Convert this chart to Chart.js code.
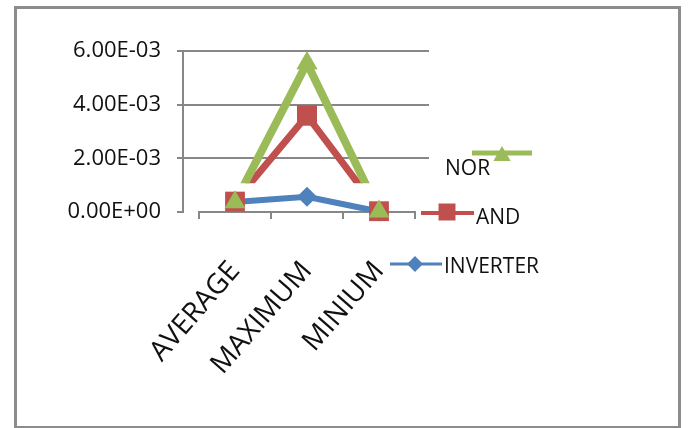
<!DOCTYPE html>
<html>
<head>
<meta charset="utf-8">
<script src="https://cdn.jsdelivr.net/npm/chart.js@4.4.1/dist/chart.umd.min.js"></script>
<style>
	body { margin: 0; background: #fff; }
	#wrap { position: relative; width: 689px; height: 428px; }
	#wrap canvas { position: absolute; left: 0; top: 0; }
	#frame { position: absolute; left: 14px; top: 6px; width: 661px; height: 417px;
		border: 3px solid #8c8c8c; border-bottom-width: 2px; pointer-events: none; }
</style>
</head>
<body>
<div id="wrap">
	<canvas id="myChart" width="689" height="428"></canvas>
	<div id="frame"></div>
</div>
<script>
var categories = ['AVERAGE', 'MAXIMUM', 'MINIUM'];
var norValues = [3.6e-4, 5.55e-3, 2e-5];
var andValues = [3.9e-4, 3.6e-3, 3e-5];
var inverterValues = [3.7e-4, 5.7e-4, 2e-5];
var yTickValues = [0, 2e-3, 4e-3, 6e-3];
var yTickLabels = ['0.00E+00', '2.00E-03', '4.00E-03', '6.00E-03'];
// in the original the NOR / AND lines fade out below this level (markers stay)
var lineFloor = 1.07e-3;

// legend is hand placed like the original one (NOR text sits left of its marker)
var legendSlots = [
	{ lineFrom: 472, lineTo: 532, lineY: 153, markX: 502, markY: 156, textX: 445, textY: 169 },
	{ lineFrom: 421, lineTo: 474, lineY: 213, markX: 447, markY: 212, textX: 476, textY: 218 },
	{ lineFrom: 390, lineTo: 442, lineY: 264, markX: 415, markY: 264, textX: 444, textY: 267 }
];

var gridGrey = '#878787';

// y axis line + horizontal grid, a bit wider than the category axis
var axisFrame = {
	id: 'axisFrame',
	beforeDatasetsDraw: function(chart) {
		var ctx = chart.ctx, a = chart.chartArea, y = chart.scales.y;
		var x0 = a.left - 16, x1 = a.right + 14;
		ctx.save();
		ctx.strokeStyle = gridGrey;
		ctx.lineWidth = 2;
		y.ticks.forEach(function(t) {
			var py = Math.round(y.getPixelForValue(t.value));
			ctx.beginPath();
			ctx.moveTo(x0 - 6, py);
			ctx.lineTo(t.value === 0 ? x0 : x1, py);
			ctx.stroke();
		});
		ctx.beginPath();
		ctx.moveTo(x0, a.top - 1);
		ctx.lineTo(x0, a.bottom + 1);
		ctx.stroke();
		ctx.restore();
	}
};

var floorCut = {
	id: 'floorCut',
	beforeDatasetDraw: function(chart, args) {
		var ds = chart.data.datasets[args.index];
		if (ds.floorCut === undefined) return;
		var ctx = chart.ctx;
		ctx.save();
		ctx.beginPath();
		ctx.rect(0, 0, chart.width, chart.scales.y.getPixelForValue(ds.floorCut));
		ctx.clip();
	},
	afterDatasetDraw: function(chart, args) {
		var ds = chart.data.datasets[args.index];
		if (ds.floorCut === undefined) return;
		chart.ctx.restore();
		// markers are not cut, draw them again
		args.meta.data.forEach(function(pt) {
			pt.draw(chart.ctx, chart.chartArea);
		});
	}
};

var sideLegend = {
	id: 'sideLegend',
	afterDraw: function(chart) {
		var ctx = chart.ctx;
		ctx.save();
		chart.data.datasets.forEach(function(ds, i) {
			var s = legendSlots[i];
			ctx.strokeStyle = ds.borderColor;
			ctx.fillStyle = ds.borderColor;
			ctx.lineWidth = ds.borderWidth - 3;
			ctx.beginPath();
			ctx.moveTo(s.lineFrom, s.lineY);
			ctx.lineTo(s.lineTo, s.lineY);
			ctx.stroke();
			Chart.helpers.drawPoint(ctx, {
				pointStyle: ds.pointStyle, radius: ds.pointRadius - 2, rotation: 0, borderWidth: 0
			}, s.markX, s.markY);
			ctx.fillStyle = '#111';
			ctx.font = '21px "Open Sans"';
			ctx.textBaseline = 'middle';
			ctx.textAlign = 'left';
			ctx.fillText(ds.label, s.textX, s.textY);
		});
		ctx.restore();
	}
};

Chart.defaults.font.family = '"Open Sans", sans-serif';

var config = {
	type: 'line',
	data: {
		labels: categories,
		datasets: [{
			label: 'NOR',
			data: norValues,
			borderColor: '#9BBB59',
			backgroundColor: '#9BBB59',
			borderWidth: 8,
			pointStyle: 'triangle',
			pointRadius: 12,
			pointBorderWidth: 0,
			floorCut: lineFloor,
			clip: false
		}, {
			label: 'AND',
			data: andValues,
			borderColor: '#C0504D',
			backgroundColor: '#C0504D',
			borderWidth: 7,
			pointStyle: 'rect',
			pointRadius: 14,
			pointBorderWidth: 0,
			floorCut: lineFloor,
			clip: false
		}, {
			label: 'INVERTER',
			data: inverterValues,
			borderColor: '#4F81BD',
			backgroundColor: '#4F81BD',
			borderWidth: 6,
			pointStyle: 'rectRot',
			pointRadius: 10,
			pointBorderWidth: 0,
			clip: false
		}]
	},
	options: {
		responsive: false,
		animation: false,
		devicePixelRatio: 1,
		layout: { padding: { top: 44, right: 274, bottom: 0, left: 0 } },
		plugins: {
			legend: { display: false },
			tooltip: { enabled: false }
		},
		elements: { line: { tension: 0, borderJoinStyle: 'miter' } },
		scales: {
			x: {
				offset: true,
				grid: { offset: true, drawOnChartArea: false, drawTicks: true, tickLength: 7, color: gridGrey, lineWidth: 2 },
				border: { display: true, color: gridGrey, width: 2 },
				ticks: { autoSkip: false, minRotation: 49, maxRotation: 49, padding: 36, color: '#111', font: { size: 28 } },
				afterFit: function(s) { s.height = 216; }
			},
			y: {
				min: 0,
				max: 6e-3,
				afterBuildTicks: function(s) {
					s.ticks = yTickValues.map(function(v) { return { value: v }; });
				},
				grid: { display: false, drawTicks: false },
				border: { display: false },
				ticks: {
					padding: 38, color: '#111', font: { size: 22 },
					callback: function(v, i) { return yTickLabels[i]; }
				},
				afterFit: function(s) { s.width = 199; }
			}
		}
	},
	plugins: [axisFrame, floorCut, sideLegend]
};

window.onload = function() {
	var ctx = document.getElementById('myChart');
	window.myLine = new Chart(ctx, config);
};
</script>
</body>
</html>
